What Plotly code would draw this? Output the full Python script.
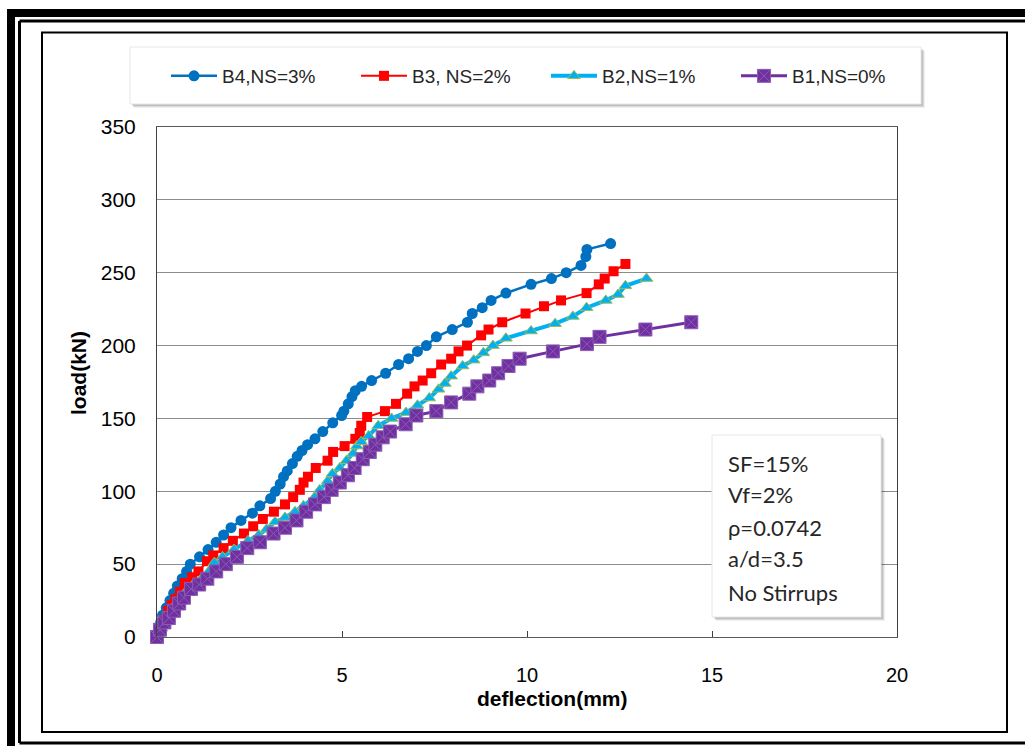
import plotly.graph_objects as go

# Load-deflection readings for the four beams (deflection in mm, load in kN)
b4_defl = [0, 0.05, 0.1, 0.15, 0.25, 0.35, 0.45, 0.55, 0.68, 0.8, 0.9, 1.15, 1.38, 1.6, 1.8, 2.0,
           2.27, 2.58, 2.78, 3.07, 3.2, 3.33, 3.42, 3.52, 3.66, 3.79, 3.92, 4.07, 4.27, 4.48, 4.75,
           4.99, 5.05, 5.17, 5.27, 5.36, 5.53, 5.8, 6.18, 6.53, 6.8, 7.04, 7.28, 7.55, 7.98, 8.39,
           8.52, 8.79, 9.03, 9.43, 10.11, 10.66, 11.06, 11.46, 11.59, 11.62, 12.26]
b4_load = [0, 5, 10, 15, 20, 25, 30, 35, 40, 45, 50, 55, 60, 65, 70, 75,
           80, 85, 90, 95, 100, 105, 110, 114, 119, 124, 128, 132, 136, 141, 147,
           152, 155, 160, 165, 169, 172, 176, 181, 187, 191, 196, 200, 206, 211, 216,
           222, 226, 231, 236, 242, 246, 250, 255, 261, 266, 270]

b3_defl = [0, 0.1, 0.2, 0.3, 0.4, 0.5, 0.62, 0.75, 0.95, 1.12, 1.35, 1.52, 1.8, 2.05, 2.35, 2.6,
           2.86, 3.16, 3.46, 3.68, 3.86, 3.96, 4.08, 4.29, 4.61, 4.76, 5.07, 5.36, 5.48, 5.52,
           5.68, 6.16, 6.46, 6.76, 6.96, 7.18, 7.41, 7.68, 7.95, 8.15, 8.38, 8.76, 8.96, 9.33,
           9.96, 10.46, 10.92, 11.61, 11.94, 12.1, 12.34, 12.66]
b3_load = [0, 6, 12, 18, 22, 26, 31, 37, 41, 45, 52, 56, 61, 66, 71, 76,
           81, 86, 91, 96, 101, 106, 110, 116, 121, 127, 131, 136, 140, 145,
           151, 155, 160, 167, 172, 176, 181, 187, 191, 196, 200, 207, 211, 216,
           222, 227, 231, 236, 242, 246, 251, 256]

b2_defl = [0, 0.12, 0.25, 0.4, 0.55, 0.75, 0.95, 1.2, 1.4, 1.55, 1.77, 2.08, 2.46, 2.75, 2.96,
           3.19, 3.46, 3.73, 3.96, 4.26, 4.4, 4.61, 4.74, 4.94, 5.12, 5.3, 5.4, 5.52, 5.72, 5.98,
           6.34, 6.73, 7.04, 7.36, 7.61, 7.78, 7.95, 8.26, 8.56, 8.82, 9.08, 9.43, 10.11, 10.76,
           11.24, 11.61, 12.13, 12.46, 12.66, 13.23]
b2_load = [0, 6, 12, 18, 24, 30, 35, 40, 45, 51, 55, 60, 66, 70, 74,
           79, 82, 86, 90, 96, 101, 107, 112, 116, 121, 126, 131, 134, 138, 145,
           150, 154, 159, 164, 170, 174, 179, 186, 190, 195, 200, 205, 210, 215,
           220, 226, 231, 235, 241, 246]

b1_defl = [0, 0.08, 0.2, 0.32, 0.46, 0.6, 0.73, 0.92, 1.14, 1.36, 1.6, 1.86, 2.16, 2.44, 2.78,
           3.15, 3.46, 3.77, 4.03, 4.27, 4.51, 4.72, 4.94, 5.16, 5.34, 5.56, 5.75, 5.9, 6.1, 6.3,
           6.72, 7.01, 7.55, 7.95, 8.44, 8.66, 8.98, 9.22, 9.5, 9.8, 10.7, 11.62, 11.96, 13.2, 14.44]
b1_load = [0, 5, 10, 13, 18, 23, 27, 33, 36, 40, 45, 50, 55, 61, 65,
           71, 75, 80, 86, 91, 96, 101, 106, 111, 116, 122, 127, 132, 137, 141,
           146, 152, 155, 161, 167, 172, 176, 181, 186, 191, 196, 201, 206, 211, 216]

x_ticks = [0, 5, 10, 15, 20]
y_ticks = [0, 50, 100, 150, 200, 250, 300, 350]

note_lines = ["SF=15%", "Vf=2%", "ρ=0.0742", "a/d=3.5", "No Stirrups"]

W, H = 1025, 746
ML, MR, MT, MB = 157, 128, 127, 109
PW, PH = W - ML - MR, H - MT - MB


def px(x):
    return (x - ML) / PW


def py(y):
    return (H - MB - y) / PH


fig = go.Figure()

fig.add_trace(go.Scatter(
    x=b4_defl, y=b4_load, name="B4,NS=3%", mode="lines+markers",
    line=dict(color="#0070C0", width=2.5),
    marker=dict(symbol="circle", size=11, color="#0070C0"),
    cliponaxis=False))
fig.add_trace(go.Scatter(
    x=b3_defl, y=b3_load, name="B3, NS=2%", mode="lines+markers",
    line=dict(color="#FF0000", width=2),
    marker=dict(symbol="square", size=10, color="#FF0000"),
    cliponaxis=False))
fig.add_trace(go.Scatter(
    x=b2_defl, y=b2_load, name="B2,NS=1%", mode="lines+markers",
    line=dict(color="#00B0F0", width=4),
    marker=dict(symbol="triangle-up", size=11, color="#00B0F0",
                line=dict(color="#9BBB59", width=1)),
    cliponaxis=False))
fig.add_trace(go.Scatter(
    x=b1_defl, y=b1_load, name="B1,NS=0%", mode="lines+markers",
    line=dict(color="#7030A0", width=3),
    marker=dict(symbol="square-x", size=13, color="#7030A0",
                line=dict(color="#8A5CB4", width=1)),
    cliponaxis=False))

shapes = []


def seg(x0, y0, x1, y1, width):
    shapes.append(dict(type="line", xref="paper", yref="paper", layer="above",
                       x0=px(x0), x1=px(x1), y0=py(y0), y1=py(y1),
                       line=dict(color="black", width=width)))


# page frames: heavy outer border, thin inner rule, then the chart border
seg(11, 13, 1025, 13, 8)
seg(11, 9, 11, 746, 8)
seg(19.5, 21, 1025, 21, 3)
seg(19.5, 21, 19.5, 743, 3)
seg(19.5, 743, 1025, 743, 3)
shapes.append(dict(type="rect", xref="paper", yref="paper", layer="above",
                   x0=px(42), x1=px(1007), y0=py(32.5), y1=py(732),
                   line=dict(color="black", width=2), fillcolor="rgba(0,0,0,0)"))


def shadow_box(x0, y0, x1, y1):
    for off, a in [(4, 0.06), (3, 0.09), (2, 0.12)]:
        shapes.append(dict(type="rect", xref="paper", yref="paper", layer="above",
                           x0=px(x0 + off), x1=px(x1 + off), y0=py(y0 + off), y1=py(y1 + off),
                           line=dict(width=0), fillcolor=f"rgba(0,0,0,{a})"))
    shapes.append(dict(type="rect", xref="paper", yref="paper", layer="above",
                       x0=px(x0), x1=px(x1), y0=py(y0), y1=py(y1),
                       line=dict(color="#E6E6E6", width=1), fillcolor="white"))


shadow_box(130, 47, 921, 104)
shadow_box(712, 435, 881, 617)

annotations = []
note_y = [463, 494, 527, 558, 592]
for txt, yy in zip(note_lines, note_y):
    annotations.append(dict(text=txt, xref="paper", yref="paper", x=px(726), y=py(yy),
                            xanchor="left", yanchor="middle", showarrow=False,
                            font=dict(family="Lato, Carlito, sans-serif", size=22, color="#262626")))

annotations.append(dict(text="deflection(mm)", xref="paper", yref="paper", x=px(552), y=py(698),
                        xanchor="center", yanchor="middle", showarrow=False,
                        font=dict(family="Liberation Sans, Arial", size=21, color="black", weight="bold")))
annotations.append(dict(text="load(kN)", xref="paper", yref="paper", x=px(78), y=py(373),
                        xanchor="center", yanchor="middle", showarrow=False, textangle=-90,
                        font=dict(family="Liberation Sans, Arial", size=21, color="black", weight="bold")))

fig.update_layout(
    width=W, height=H,
    margin=dict(l=ML, r=MR, t=MT, b=MB, pad=0),
    paper_bgcolor="white", plot_bgcolor="white",
    shapes=shapes, annotations=annotations,
    showlegend=True,
    # anchored just left of the plot area so the row may use the full width
    legend=dict(orientation="h", x=px(150), y=py(76), xanchor="left", yanchor="middle",
                bgcolor="rgba(0,0,0,0)", bordercolor="rgba(0,0,0,0)", borderwidth=16,
                font=dict(family="Liberation Sans, Arial", size=19, color="#262626"),
                itemwidth=46, entrywidth=129, traceorder="normal"),
    xaxis=dict(range=[0, 20], tickvals=x_ticks, ticks="inside", ticklen=6, tickcolor="#404040",
               showgrid=False, zeroline=False, showline=True, linecolor="#595959", linewidth=1,
               mirror=True, ticklabelstandoff=20,
               tickfont=dict(family="Liberation Sans, Arial", size=20, color="black")),
    yaxis=dict(range=[0, 350], tickvals=y_ticks, ticks="", showgrid=True, gridcolor="#8C8C8C",
               gridwidth=1, zeroline=False, showline=True, linecolor="#404040", linewidth=1,
               mirror=True, ticklabelstandoff=16,
               tickfont=dict(family="Liberation Sans, Arial", size=21, color="black")),
)

fig.write_html("out.html", post_script="document.body.style.margin='0';document.body.style.overflow='hidden';")
